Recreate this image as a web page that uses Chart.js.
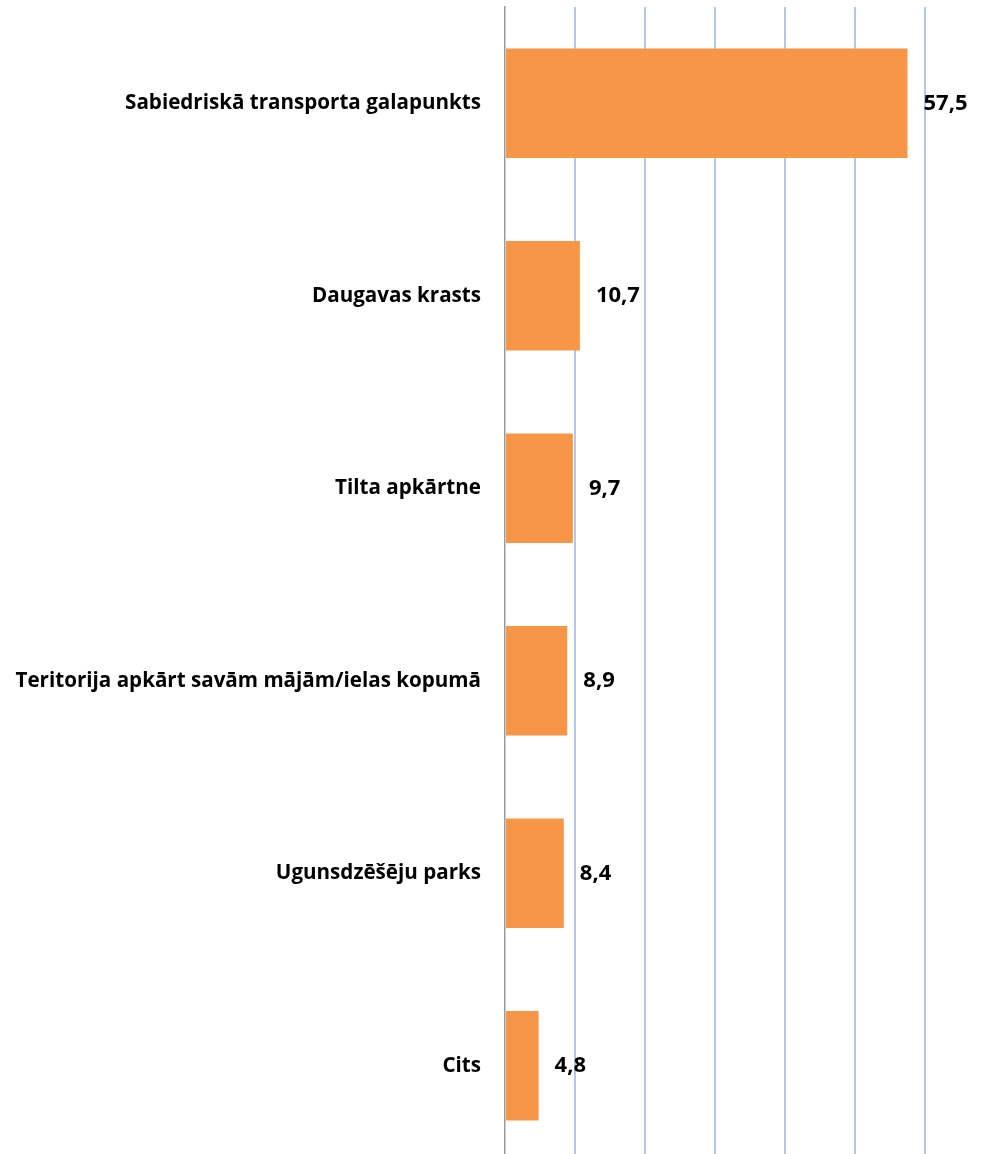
<!DOCTYPE html>
<html>
<head>
<meta charset="utf-8">
<script src="https://cdn.jsdelivr.net/npm/chart.js@4.4.1/dist/chart.umd.min.js"></script>
<style>
    html, body { margin: 0; padding: 0; background: #fff; overflow: hidden; }
    #wrap { width: 987px; height: 1162px; position: relative; }
</style>
</head>
<body>
<div id="wrap"><canvas id="chart"></canvas></div>
<script>
// --- DATA ---
const categories = [
    'Sabiedriskā transporta galapunkts',
    'Daugavas krasts',
    'Tilta apkārtne',
    'Teritorija apkārt savām mājām/ielas kopumā',
    'Ugunsdzēšēju parks',
    'Cits'
];
const values = [57.5, 10.7, 9.7, 8.9, 8.4, 4.8];
const axisTicks = [0, 10, 20, 30, 40, 50, 60];

const FONT = '"Open Sans", sans-serif';

// value labels at the bar ends, comma decimal
const valueLabels = {
    id: 'valueLabels',
    afterDatasetsDraw(chart) {
        const ctx = chart.ctx;
        const meta = chart.getDatasetMeta(0);
        ctx.save();
        ctx.font = 'bold 22px ' + FONT;
        ctx.fillStyle = '#000';
        ctx.textAlign = 'left';
        ctx.textBaseline = 'middle';
        meta.data.forEach((bar, i) => {
            const txt = values[i].toFixed(1).replace('.', ',');
            ctx.fillText(txt, bar.x + 16, bar.y);
        });
        ctx.restore();
    }
};

new Chart(document.getElementById('chart'), {
    type: 'bar',
    data: {
        labels: categories,
        datasets: [{
            data: values,
            backgroundColor: '#f79646',
            barPercentage: 0.57,
            categoryPercentage: 1
        }]
    },
    options: {
        indexAxis: 'y',
        responsive: true,
        maintainAspectRatio: false,
        animation: false,
        layout: { padding: { top: 7, right: 62, left: 0, bottom: 0 } },
        plugins: {
            legend: { display: false },
            tooltip: { enabled: false }
        },
        scales: {
            x: {
                min: axisTicks[0],
                max: axisTicks[axisTicks.length - 1],
                afterBuildTicks: (scale) => { scale.ticks = axisTicks.map(v => ({ value: v })); },
                afterFit: (scale) => { scale.height = 0; scale.paddingLeft = 0; scale.paddingRight = 0; },
                ticks: { display: false },
                border: { display: false },
                grid: {
                    drawTicks: false,
                    lineWidth: 2,
                    color: (c) => c.index === 0 ? 'rgba(0,0,0,0)' : '#b4c7e7'
                }
            },
            y: {
                afterFit: (scale) => { scale.width = 505; scale.paddingTop = 0; scale.paddingBottom = 0; },
                ticks: {
                    color: '#000',
                    padding: 24,
                    font: { family: FONT, size: 20.6, weight: 'bold' }
                },
                grid: { display: false, drawTicks: false },
                border: { display: true, color: '#999999', width: 1.5 }
            }
        }
    },
    plugins: [valueLabels]
});
</script>
</body>
</html>
